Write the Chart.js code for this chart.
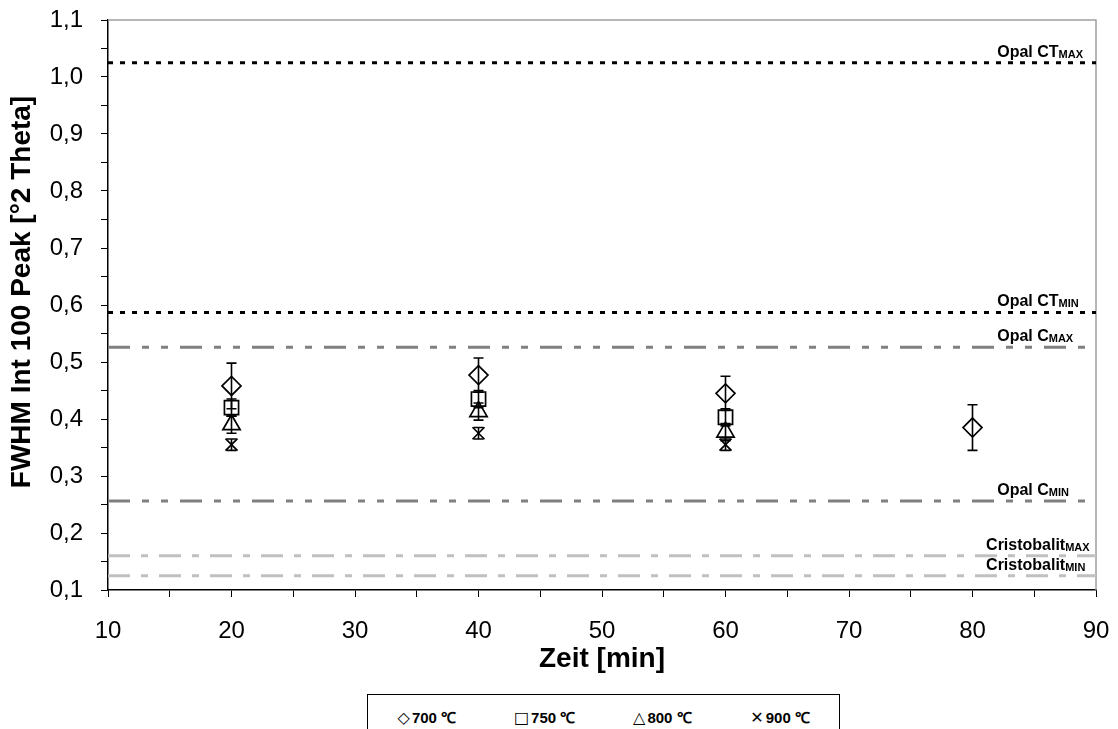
<!DOCTYPE html>
<html>
<head>
<meta charset="utf-8">
<script src="https://cdn.jsdelivr.net/npm/chart.js@4/dist/chart.umd.min.js"></script>
<style>
  body { margin: 0; background: #fff; }
  #wrap { position: relative; width: 1118px; height: 729px; overflow: hidden; }
  #legend {
    position: absolute; left: 367px; top: 694px; width: 473px; height: 60px;
    border: 1px solid #000; box-sizing: border-box; display: flex;
    font: bold 15px 'Liberation Sans', Arial, sans-serif; color: #000;
  }
  #legend span { flex: 1; text-align: center; padding-top: 12px; }
  #legend i { font-style: normal; font-family: 'DejaVu Sans', sans-serif; font-weight: normal; font-size: 16px; margin-right: 2px; }
</style>
</head>
<body>
<div id="wrap">
  <canvas id="chart" width="1118" height="690"></canvas>
  <div id="legend"></div>
</div>
<script>
// measurement times [min]
const times = [20, 40, 60, 80];

// FWHM values per annealing temperature
const labels700 = '700 ℃', labels750 = '750 ℃', labels800 = '800 ℃', labels900 = '900 ℃';
const fwhm700 = [0.458, 0.477, 0.445, 0.385];
const err700 = [0.04, 0.03, 0.03, 0.04];
const fwhm750 = [0.420, 0.435, 0.403];
const err750 = [0.015, 0.015, 0.015];
const fwhm800 = [0.390, 0.413, 0.377];
const err800 = [0.015, 0.015, 0.015];
const fwhm900 = [0.355, 0.375, 0.355];
const err900 = [0.01, 0.01, 0.01];

// reference ranges
const refNames = ['Opal CT', 'Opal CT', 'Opal C', 'Opal C', 'Cristobalit', 'Cristobalit'];
const refSubs = ['MAX', 'MIN', 'MAX', 'MIN', 'MAX', 'MIN'];
const refValues = [1.025, 0.587, 0.526, 0.256, 0.160, 0.125];

const refStyle = {
  'Opal CT': { color: '#000000', dash: [5, 7], labelX: 82 },
  'Opal C': { color: '#808080', dash: [22, 12, 7, 12, 7, 12], labelX: 82 },
  'Cristobalit': { color: '#c0c0c0', dash: [22, 11, 7, 11], labelX: 81.1 }
};

const FONT = "'Liberation Sans', Arial, sans-serif";
const Y_TITLE = 'FWHM Int 100 Peak [°2 Theta]';

function pts(xs, ys) {
  return ys.map((y, i) => ({ x: xs[i], y: y }));
}

function marker(label, ys, errs, style, radius) {
  return {
    label: label,
    data: pts(times, ys),
    errors: errs,
    pointStyle: style,
    pointRadius: radius,
    pointHoverRadius: radius,
    pointBorderColor: '#000',
    pointBackgroundColor: 'rgba(0,0,0,0)',
    pointBorderWidth: 1.7,
    showLine: false
  };
}

const refSets = refValues.map((v, i) => ({
  label: refNames[i] + ' ' + refSubs[i],
  data: [{ x: 10, y: v }, { x: 90, y: v }],
  refName: refNames[i],
  refSub: refSubs[i],
  showLine: true,
  borderColor: refStyle[refNames[i]].color,
  borderDash: refStyle[refNames[i]].dash,
  borderWidth: 3,
  pointRadius: 0,
  pointHoverRadius: 0
}));

const errorBars = {
  id: 'errorBars',
  afterDatasetsDraw(chart) {
    const ctx = chart.ctx, y = chart.scales.y, x = chart.scales.x;
    ctx.save();
    ctx.strokeStyle = '#000';
    ctx.lineWidth = 1.6;
    chart.data.datasets.forEach(ds => {
      if (!ds.errors) return;
      ds.data.forEach((p, i) => {
        const px = x.getPixelForValue(p.x);
        const top = y.getPixelForValue(p.y + ds.errors[i]);
        const bot = y.getPixelForValue(p.y - ds.errors[i]);
        ctx.beginPath();
        ctx.moveTo(px, top); ctx.lineTo(px, bot);
        ctx.moveTo(px - 5, top); ctx.lineTo(px + 5, top);
        ctx.moveTo(px - 5, bot); ctx.lineTo(px + 5, bot);
        ctx.stroke();
      });
    });
    ctx.restore();
  }
};

const refLabels = {
  id: 'refLabels',
  afterDatasetsDraw(chart) {
    const ctx = chart.ctx, y = chart.scales.y, x = chart.scales.x;
    ctx.save();
    ctx.fillStyle = '#000';
    ctx.textBaseline = 'alphabetic';
    chart.data.datasets.forEach(ds => {
      if (!ds.refName) return;
      const px = x.getPixelForValue(refStyle[ds.refName].labelX);
      const py = y.getPixelForValue(ds.data[0].y) - 6;
      ctx.font = 'bold 16px ' + FONT;
      ctx.textAlign = 'left';
      ctx.fillText(ds.refName, px, py);
      const w = ctx.measureText(ds.refName).width;
      ctx.font = 'bold 11px ' + FONT;
      ctx.fillText(ds.refSub, px + w, py + 1);
    });
    ctx.restore();
  }
};

// gray frame on top and right of the plot area, rotated y title
const frame = {
  id: 'frame',
  beforeDatasetsDraw(chart) {
    const { left, right, top, bottom } = chart.chartArea;
    const ctx = chart.ctx;
    ctx.save();
    ctx.strokeStyle = '#a0a0a0';
    ctx.lineWidth = 1.5;
    ctx.beginPath();
    ctx.moveTo(left, top); ctx.lineTo(right, top); ctx.lineTo(right, bottom);
    ctx.stroke();
    ctx.translate(22, (top + bottom) / 2 - 13);
    ctx.rotate(-Math.PI / 2);
    ctx.fillStyle = '#000';
    ctx.font = 'bold 28px ' + FONT;
    ctx.textAlign = 'center';
    ctx.textBaseline = 'middle';
    ctx.fillText(Y_TITLE, 0, 0);
    ctx.restore();
  }
};

const tickFont = { family: FONT, size: 24 };
const titleFont = { family: FONT, size: 28, weight: 'bold' };

new Chart(document.getElementById('chart'), {
  type: 'scatter',
  data: {
    datasets: [
      marker(labels700, fwhm700, err700, 'rectRot', 9.5),
      marker(labels750, fwhm750, err750, 'rect', 10),
      marker(labels800, fwhm800, err800, 'triangle', 10),
      marker(labels900, fwhm900, err900, 'crossRot', 8.5),
      ...refSets
    ]
  },
  options: {
    responsive: false,
    animation: false,
    layout: { padding: { left: 0, right: 22, top: 20, bottom: 0 } },
    plugins: { legend: { display: false }, tooltip: { enabled: false } },
    scales: {
      x: {
        type: 'linear',
        min: 10, max: 90,
        afterFit(s) { s.height = 100; s.paddingLeft = 0; s.paddingRight = 0; },
        border: { color: '#000', width: 1.5 },
        grid: { drawOnChartArea: false, drawTicks: true, tickLength: 7, color: '#000' },
        ticks: {
          stepSize: 5, autoSkip: false, maxRotation: 0, color: '#000', font: tickFont, padding: 20,
          callback: v => (Math.round(v) % 10 === 0 ? String(Math.round(v)) : '')
        },
        title: { display: true, text: 'Zeit [min]', color: '#000', font: titleFont, padding: { top: 14, bottom: 14 } }
      },
      y: {
        type: 'linear',
        min: 0.1, max: 1.1,
        afterFit(s) { s.width = 108; s.paddingTop = 0; s.paddingBottom = 0; },
        border: { color: '#000', width: 1.5 },
        grid: { drawOnChartArea: false, drawTicks: true, tickLength: 7, color: '#000' },
        ticks: {
          stepSize: 0.05, autoSkip: false, color: '#000', font: tickFont, padding: 18,
          callback: v => {
            const n = Math.round(v * 100);
            return n % 10 === 0 ? (n / 100).toFixed(1).replace('.', ',') : '';
          }
        },
        title: { display: false }
      }
    }
  },
  plugins: [frame, errorBars, refLabels]
});

// legend below the plot
const legendItems = [['◇', labels700], ['□', labels750], ['△', labels800], ['✕', labels900]];
document.getElementById('legend').innerHTML = legendItems
  .map(([sym, txt]) => '<span><i>' + sym + '</i>' + txt + '</span>').join('');
</script>
</body>
</html>
